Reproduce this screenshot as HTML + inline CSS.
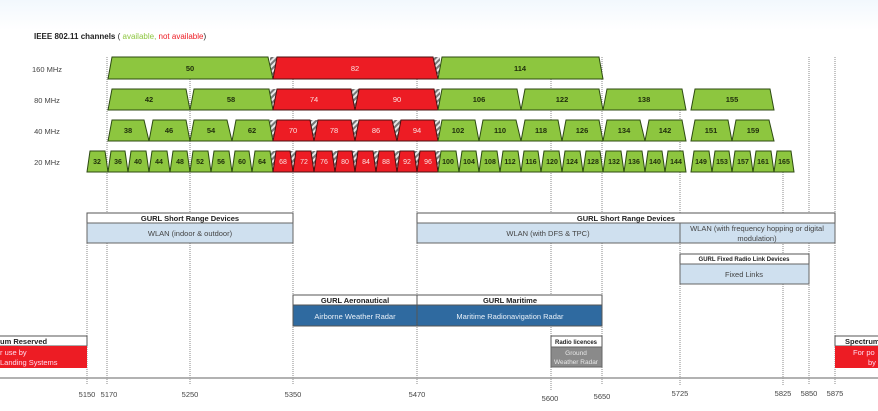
<!DOCTYPE html>
<html><head><meta charset="utf-8"><style>
html,body{margin:0;padding:0;background:#fff;}
svg{display:block;font-family:"Liberation Sans",sans-serif;}
.g{fill:#8dc63f;stroke:#2d4a12;stroke-width:1}
.r{fill:#ed1c24;stroke:#4a1010;stroke-width:1}
.tg{fill:#1f2e0c;font-size:7.5px;font-weight:bold;text-anchor:middle}
.tr{fill:#fbe0e0;font-size:7.5px;text-anchor:middle}
.t20g{fill:#1f2e0c;font-size:7px;font-weight:bold;text-anchor:middle}
.t20r{fill:#fbe0e0;font-size:7px;text-anchor:middle}
.rl{fill:#444;font-size:7.5px;text-anchor:middle}
.vl{stroke:#888;stroke-width:1;stroke-dasharray:1,1}
.hd{fill:#fff;stroke:#555;stroke-width:1}
.ht{fill:#222;font-size:7.5px;font-weight:bold;text-anchor:middle}
.ht2{fill:#222;font-size:6px;font-weight:bold;text-anchor:middle}
.lb{fill:#cfe0ef;stroke:#666;stroke-width:1}
.lt{fill:#444;font-size:7.5px;text-anchor:middle}
.db{fill:#2f6aa0;stroke:#555;stroke-width:1}
.dt{fill:#e8f0f8;font-size:7.5px;text-anchor:middle}
.ax{fill:#444;font-size:7.5px;text-anchor:middle}
</style></head><body>
<svg width="878" height="411" viewBox="0 0 878 411" xmlns="http://www.w3.org/2000/svg">
<defs>
<linearGradient id="top" x1="0" y1="0" x2="0" y2="1"><stop offset="0" stop-color="#f2f8fd"/><stop offset="1" stop-color="#fff"/></linearGradient>
<pattern id="hatch" width="4" height="4" patternUnits="userSpaceOnUse" patternTransform="rotate(45)">
<rect width="4" height="4" fill="#e8e8e8"/><rect width="2" height="4" fill="#777"/></pattern>
</defs>
<rect x="0" y="0" width="878" height="30" fill="url(#top)"/>
<text x="34" y="39" font-size="8" font-weight="bold" fill="#222">IEEE 802.11 channels <tspan font-weight="normal">(</tspan><tspan font-weight="normal" fill="#8dc63f"> available, </tspan><tspan font-weight="normal" fill="#ed1c24"> not available</tspan><tspan font-weight="normal">)</tspan></text>

<!-- vertical dotted lines -->
<line class="vl" x1="107" y1="57" x2="107" y2="385"/>
<line class="vl" x1="190" y1="57" x2="190" y2="385"/>
<line class="vl" x1="293" y1="79" x2="293" y2="385"/>
<line class="vl" x1="417" y1="79" x2="417" y2="385"/>
<line class="vl" x1="551" y1="79" x2="551" y2="390"/>
<line class="vl" x1="602" y1="57" x2="602" y2="385"/>
<line class="vl" x1="680" y1="110" x2="680" y2="385"/>
<line class="vl" x1="783" y1="172" x2="783" y2="385"/>
<line class="vl" x1="809" y1="57" x2="809" y2="385"/>
<line class="vl" x1="835" y1="57" x2="835" y2="385"/>
<line class="vl" x1="87" y1="213" x2="87" y2="385"/>
<line x1="0" y1="378" x2="878" y2="378" stroke="#999" stroke-width="1.5"/>

<!-- hatch backgrounds -->
<rect x="270" y="57" width="170" height="22" fill="url(#hatch)"/>
<rect x="270" y="89" width="170" height="21" fill="url(#hatch)"/>
<rect x="270" y="120" width="170" height="21" fill="url(#hatch)"/>
<rect x="270" y="151" width="170" height="21" fill="url(#hatch)"/>

<!-- row labels -->
<text class="rl" x="47" y="72">160 MHz</text>
<text class="rl" x="47" y="103">80 MHz</text>
<text class="rl" x="47" y="134">40 MHz</text>
<text class="rl" x="47" y="165">20 MHz</text>

<!-- 160 MHz -->
<polygon class="g" points="108,79 112,57 268,57 273,79"/><text class="tg" x="190" y="71">50</text>
<polygon class="r" points="273,79 277,57 433,57 438,79"/><text class="tr" x="355" y="71">82</text>
<polygon class="g" points="438,79 442,57 599,57 603,79"/><text class="tg" x="520" y="71">114</text>

<!-- 80 MHz -->
<polygon class="g" points="108,110 112,89 186,89 190,110"/><text class="tg" x="149" y="102">42</text>
<polygon class="g" points="190,110 194,89 269,89 273,110"/><text class="tg" x="231" y="102">58</text>
<polygon class="r" points="273,110 277,89 351,89 355,110"/><text class="tr" x="314" y="102">74</text>
<polygon class="r" points="355,110 359,89 434,89 438,110"/><text class="tr" x="397" y="102">90</text>
<polygon class="g" points="438,110 442,89 517,89 521,110"/><text class="tg" x="479" y="102">106</text>
<polygon class="g" points="521,110 525,89 599,89 603,110"/><text class="tg" x="562" y="102">122</text>
<polygon class="g" points="603,110 607,89 682,89 686,110"/><text class="tg" x="644" y="102">138</text>
<polygon class="g" points="691,110 695,89 770,89 774,110"/><text class="tg" x="732" y="102">155</text>

<!-- 40 MHz -->
<polygon class="g" points="108,141 112,120 144,120 149,141"/><text class="tg" x="128" y="133">38</text>
<polygon class="g" points="149,141 153,120 186,120 190,141"/><text class="tg" x="169" y="133">46</text>
<polygon class="g" points="190,141 194,120 227,120 232,141"/><text class="tg" x="211" y="133">54</text>
<polygon class="g" points="232,141 236,120 269,120 273,141"/><text class="tg" x="252" y="133">62</text>
<polygon class="r" points="273,141 277,120 310,120 314,141"/><text class="tr" x="293" y="133">70</text>
<polygon class="r" points="314,141 318,120 351,120 355,141"/><text class="tr" x="334" y="133">78</text>
<polygon class="r" points="355,141 359,120 392,120 397,141"/><text class="tr" x="376" y="133">86</text>
<polygon class="r" points="397,141 401,120 434,120 438,141"/><text class="tr" x="417" y="133">94</text>
<polygon class="g" points="438,141 442,120 475,120 479,141"/><text class="tg" x="458" y="133">102</text>
<polygon class="g" points="479,141 483,120 516,120 521,141"/><text class="tg" x="500" y="133">110</text>
<polygon class="g" points="521,141 525,120 558,120 562,141"/><text class="tg" x="541" y="133">118</text>
<polygon class="g" points="562,141 566,120 599,120 603,141"/><text class="tg" x="582" y="133">126</text>
<polygon class="g" points="603,141 607,120 640,120 645,141"/><text class="tg" x="624" y="133">134</text>
<polygon class="g" points="645,141 649,120 682,120 686,141"/><text class="tg" x="665" y="133">142</text>
<polygon class="g" points="691,141 695,120 728,120 732,141"/><text class="tg" x="711" y="133">151</text>
<polygon class="g" points="732,141 736,120 769,120 774,141"/><text class="tg" x="753" y="133">159</text>

<!-- 20 MHz -->
<polygon class="g" points="87,172 90,151 105,151 108,172"/><text class="t20g" x="97" y="164">32</text>
<polygon class="g" points="108,172 111,151 125,151 128,172"/><text class="t20g" x="118" y="164">36</text>
<polygon class="g" points="128,172 131,151 146,151 149,172"/><text class="t20g" x="138" y="164">40</text>
<polygon class="g" points="149,172 152,151 167,151 170,172"/><text class="t20g" x="159" y="164">44</text>
<polygon class="g" points="170,172 173,151 187,151 190,172"/><text class="t20g" x="180" y="164">48</text>
<polygon class="g" points="190,172 193,151 208,151 211,172"/><text class="t20g" x="200" y="164">52</text>
<polygon class="g" points="211,172 214,151 229,151 232,172"/><text class="t20g" x="221" y="164">56</text>
<polygon class="g" points="232,172 235,151 249,151 252,172"/><text class="t20g" x="242" y="164">60</text>
<polygon class="g" points="252,172 255,151 270,151 273,172"/><text class="t20g" x="262" y="164">64</text>
<polygon class="r" points="273,172 276,151 290,151 293,172"/><text class="t20r" x="283" y="164">68</text>
<polygon class="r" points="293,172 296,151 311,151 314,172"/><text class="t20r" x="304" y="164">72</text>
<polygon class="r" points="314,172 317,151 332,151 335,172"/><text class="t20r" x="324" y="164">76</text>
<polygon class="r" points="335,172 338,151 352,151 355,172"/><text class="t20r" x="345" y="164">80</text>
<polygon class="r" points="355,172 358,151 373,151 376,172"/><text class="t20r" x="366" y="164">84</text>
<polygon class="r" points="376,172 379,151 394,151 397,172"/><text class="t20r" x="386" y="164">88</text>
<polygon class="r" points="397,172 400,151 414,151 417,172"/><text class="t20r" x="407" y="164">92</text>
<polygon class="r" points="417,172 420,151 435,151 438,172"/><text class="t20r" x="428" y="164">96</text>
<polygon class="g" points="438,172 441,151 456,151 459,172"/><text class="t20g" x="448" y="164">100</text>
<polygon class="g" points="459,172 462,151 476,151 479,172"/><text class="t20g" x="469" y="164">104</text>
<polygon class="g" points="479,172 482,151 497,151 500,172"/><text class="t20g" x="490" y="164">108</text>
<polygon class="g" points="500,172 503,151 518,151 521,172"/><text class="t20g" x="510" y="164">112</text>
<polygon class="g" points="521,172 524,151 538,151 541,172"/><text class="t20g" x="531" y="164">116</text>
<polygon class="g" points="541,172 544,151 559,151 562,172"/><text class="t20g" x="552" y="164">120</text>
<polygon class="g" points="562,172 565,151 580,151 583,172"/><text class="t20g" x="572" y="164">124</text>
<polygon class="g" points="583,172 586,151 600,151 603,172"/><text class="t20g" x="593" y="164">128</text>
<polygon class="g" points="603,172 606,151 621,151 624,172"/><text class="t20g" x="614" y="164">132</text>
<polygon class="g" points="624,172 627,151 642,151 645,172"/><text class="t20g" x="634" y="164">136</text>
<polygon class="g" points="645,172 648,151 662,151 665,172"/><text class="t20g" x="655" y="164">140</text>
<polygon class="g" points="665,172 668,151 683,151 686,172"/><text class="t20g" x="676" y="164">144</text>
<polygon class="g" points="691,172 694,151 709,151 712,172"/><text class="t20g" x="701" y="164">149</text>
<polygon class="g" points="712,172 715,151 729,151 732,172"/><text class="t20g" x="722" y="164">153</text>
<polygon class="g" points="732,172 735,151 750,151 753,172"/><text class="t20g" x="743" y="164">157</text>
<polygon class="g" points="753,172 756,151 771,151 774,172"/><text class="t20g" x="763" y="164">161</text>
<polygon class="g" points="774,172 777,151 791,151 794,172"/><text class="t20g" x="784" y="164">165</text>

<!-- GURL SRD left -->
<rect class="hd" x="87" y="213" width="206" height="10"/><text class="ht" x="190" y="221">GURL Short Range Devices</text>
<rect class="lb" x="87" y="223" width="206" height="20"/><text class="lt" x="190" y="236">WLAN (indoor &amp; outdoor)</text>
<!-- GURL SRD right -->
<rect class="hd" x="417" y="213" width="418" height="10"/><text class="ht" x="626" y="221">GURL Short Range Devices</text>
<rect class="lb" x="417" y="223" width="263" height="20"/><text class="lt" x="548" y="236">WLAN (with DFS &amp; TPC)</text>
<rect class="lb" x="680" y="223" width="155" height="20"/><text class="lt" x="757" y="231">WLAN (with frequency hopping or digital</text><text class="lt" x="757" y="241">modulation)</text>
<!-- Fixed links -->
<rect class="hd" x="680" y="254" width="129" height="10"/><text class="ht2" x="744" y="261">GURL Fixed Radio Link Devices</text>
<rect class="lb" x="680" y="264" width="129" height="20"/><text class="lt" x="744" y="277">Fixed Links</text>
<!-- Aeronautical / Maritime -->
<rect class="hd" x="293" y="295" width="124" height="10"/><text class="ht" x="355" y="303">GURL Aeronautical</text>
<rect class="db" x="293" y="305" width="124" height="21"/><text class="dt" x="355" y="319">Airborne Weather Radar</text>
<rect class="hd" x="417" y="295" width="185" height="10"/><text class="ht" x="510" y="303">GURL Maritime</text>
<rect class="db" x="417" y="305" width="185" height="21"/><text class="dt" x="510" y="319">Maritime Radionavigation Radar</text>
<!-- Radio licences -->
<rect class="hd" x="551" y="336" width="51" height="11"/><text class="ht2" x="576" y="344">Radio licences</text>
<rect x="551" y="347" width="51" height="20" fill="#8a8a8a" stroke="#666"/><text x="576" y="355" font-size="6.5" fill="#e8e8e8" text-anchor="middle">Ground</text><text x="576" y="364" font-size="6.5" fill="#e8e8e8" text-anchor="middle">Weather Radar</text>
<!-- left red -->
<rect class="hd" x="-2" y="336" width="89" height="10"/><text x="0" y="344" font-size="7.5" font-weight="bold" fill="#222">um Reserved</text>
<rect x="-2" y="346" width="89" height="22" fill="#ed1c24"/><text x="0" y="355" font-size="7.5" fill="#fde">r use by</text><text x="0" y="365" font-size="7.5" fill="#fde">Landing Systems</text>
<!-- right red -->
<rect class="hd" x="835" y="336" width="50" height="10"/><text x="845" y="344" font-size="7.5" font-weight="bold" fill="#222">Spectrum</text>
<rect x="835" y="346" width="50" height="22" fill="#ed1c24"/><text x="853" y="355" font-size="7.5" fill="#fde">For po</text><text x="868" y="365" font-size="7.5" fill="#fde">by</text>

<!-- axis labels -->
<text class="ax" x="87" y="397">5150</text>
<text class="ax" x="109" y="397">5170</text>
<text class="ax" x="190" y="397">5250</text>
<text class="ax" x="293" y="397">5350</text>
<text class="ax" x="417" y="397">5470</text>
<text class="ax" x="550" y="401">5600</text>
<text class="ax" x="602" y="399">5650</text>
<text class="ax" x="680" y="396">5725</text>
<text class="ax" x="783" y="396">5825</text>
<text class="ax" x="809" y="396">5850</text>
<text class="ax" x="835" y="396">5875</text>
</svg>
</body></html>
